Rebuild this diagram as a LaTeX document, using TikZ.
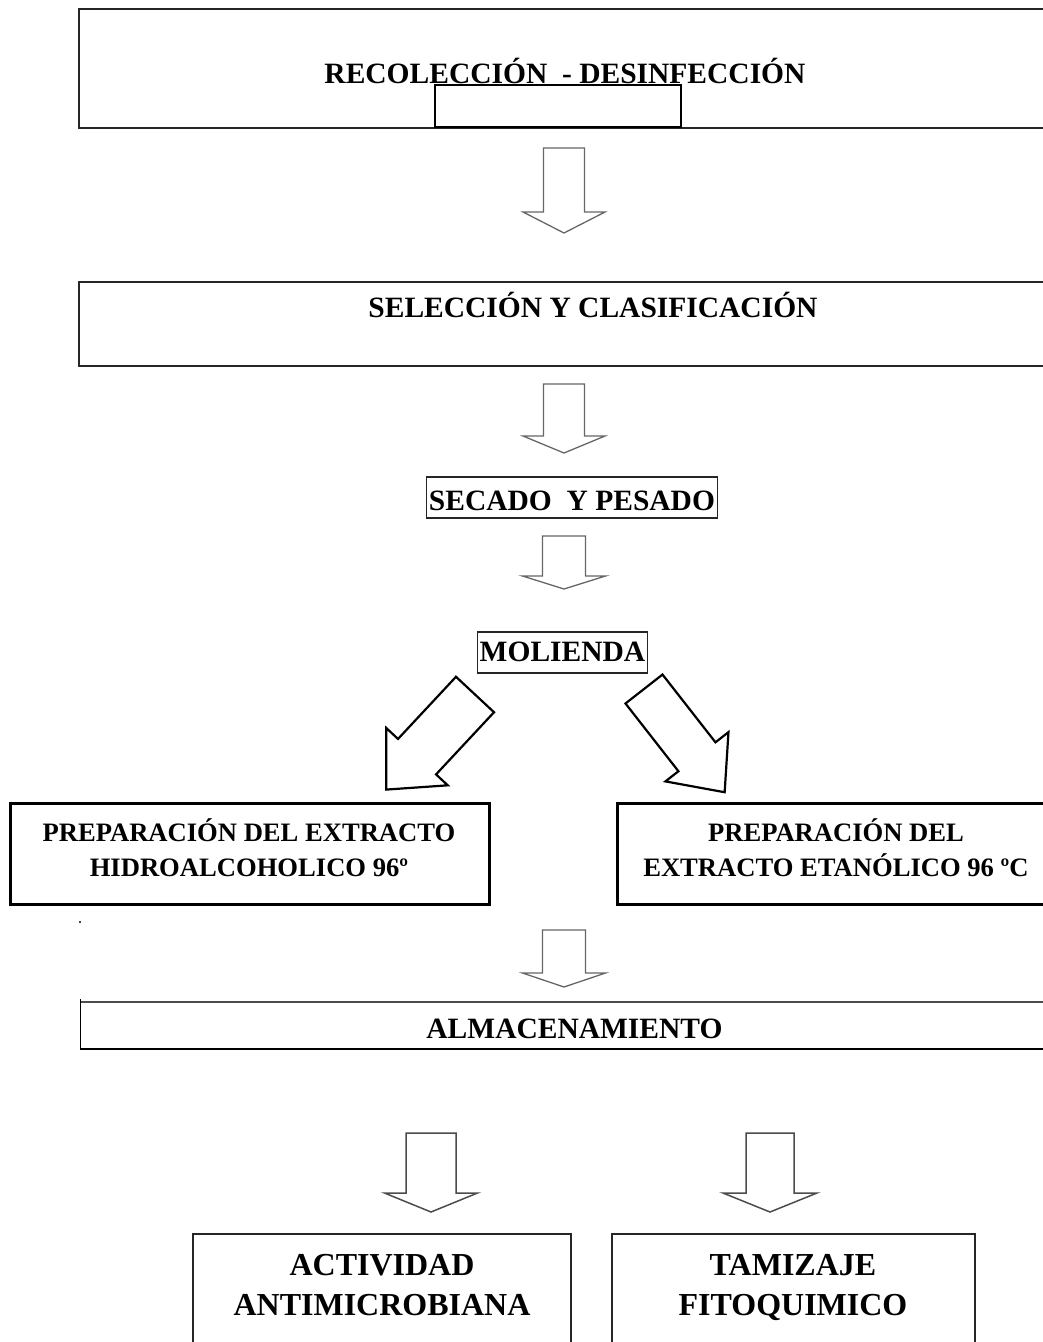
\documentclass[tikz,border=0pt]{standalone}
\usepackage{fontspec}
\setmainfont{Liberation Serif}
\begin{document}
\begin{tikzpicture}[x=1pt,y=-1pt,
    txt/.style={font=\fontsize{29.5}{35}\selectfont\bfseries, inner sep=0pt, anchor=base},
    frame/.style={draw=black!85, line width=1.8pt},
    thickframe/.style={draw=black, line width=3pt},
    smallbox/.style={draw=black!85, line width=1.4pt}]
  \useasboundingbox (0,0) rectangle (1043,1342);
  \clip (0,0) rectangle (1043,1342);
  % top frames
  \draw[frame] (79,9) rectangle (1060,128);
  \draw[fill=white, draw=black, line width=1.5pt] (435,85) rectangle (681,127);
  \node[txt] (recol) at (565,83) {RECOLECCIÓN\ \ - DESINFECCIÓN};
  \draw[frame] (79,282) rectangle (1060,366);
  \node[txt] (selec) at (593,317) {SELECCIÓN Y CLASIFICACIÓN};
  \node[txt, smallbox, inner xsep=2.5pt, text height=33pt, text depth=8pt] (secado) at (572,510) {SECADO\ \ Y PESADO};
  \node[txt, smallbox, inner xsep=2pt, text height=29pt, text depth=12pt] (molienda) at (562.5,661) {MOLIENDA};
  % extracts (base = last line)
  \draw[thickframe] (10,803) rectangle (489,904);
  \draw[thickframe] (617,803) rectangle (1060,904);
  \node[txt, font=\fontsize{26.6}{35}\selectfont\bfseries, align=center] (hidro) at (249,876) {PREPARACIÓN DEL EXTRACTO\\HIDROALCOHOLICO 96º};
  \node[txt, font=\fontsize{26.6}{35}\selectfont\bfseries, align=center] (etanol) at (836,876) {PREPARACIÓN DEL\\EXTRACTO ETANÓLICO 96 ºC};
  \fill (80,922) circle (1.2);
  % storage
  \draw[black!70, line width=1.8pt] (80,1002) -- (1060,1002);
  \draw[line width=2.4pt] (80,1049) -- (1060,1049);
  \draw[line width=1pt] (80,999) -- (80,1050);
  \node[txt] (almacen) at (574.5,1038) {ALMACENAMIENTO};
  % results
  \draw[smallbox, line width=1.5pt] (193,1234) rectangle (571,1360);
  \draw[smallbox, line width=1.5pt] (612,1234) rectangle (975,1360);
  \node[txt, font=\fontsize{32}{40}\selectfont\bfseries, align=center] (activ) at (382,1315) {ACTIVIDAD\\ANTIMICROBIANA};
  \node[txt, font=\fontsize{32}{40}\selectfont\bfseries, align=center] (tamiz) at (793,1315) {TAMIZAJE\\FITOQUIMICO};
  % hollow arrows
  \foreach \x/\y/\ang/\len/\sw/\hw/\hl/\lw/\col in {
      564/148/0/85/41/82/21/1.3/black!60,
      564/384/0/69/41/82/17/1.3/black!60,
      564/536/0/53/43/83/13/1.3/black!60,
      564/930/0/57/43/83/14/1.3/black!60,
      475/694.5/-43/130/52/84/45/2.2/black,
      644/689/38/131/47/80/45/2.2/black,
      431/1133/0/79/50/93/19/1.5/black!70,
      770/1133/0/79/48/94/19/1.5/black!70}
  {
    \begin{scope}[shift={(\x,\y)},rotate=\ang]
      \draw[line width=\lw, draw=\col, line join=miter] (-\sw/2,0) -- (-\sw/2,\len-\hl) -- (-\hw/2,\len-\hl)
        -- (0,\len) -- (\hw/2,\len-\hl) -- (\sw/2,\len-\hl) -- (\sw/2,0) -- cycle;
    \end{scope}
  }
\end{tikzpicture}
\end{document}
